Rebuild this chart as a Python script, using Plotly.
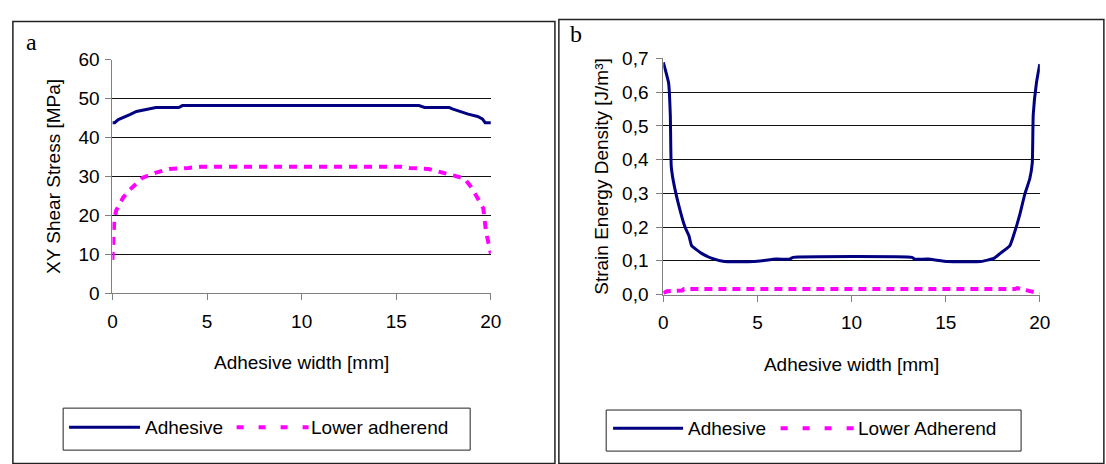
import plotly.graph_objects as go

W, H = 1106, 464

# Panel a: XY shear stress [MPa]
a_adh_x = [0.0, 0.12, 0.31, 0.6, 0.92, 1.27, 1.79, 2.3, 3.5, 3.7, 8.0, 12.0, 16.2, 16.5, 17.8, 18.0, 18.3, 18.8, 19.3, 19.55, 19.7, 20.0]
a_adh_y = [43.8, 43.8, 44.6, 45.3, 45.9, 46.7, 47.3, 47.7, 47.7, 48.2, 48.2, 48.2, 48.2, 47.7, 47.7, 47.3, 46.8, 46.0, 45.4, 44.8, 43.8, 43.8]

a_low_x = [0.0, 0.05, 0.1, 0.2, 0.57, 0.92, 1.27, 1.6, 2.3, 3.0, 4.0, 4.7, 10.0, 15.3, 15.7, 16.7, 17.2, 17.9, 18.6, 19.0, 19.3, 19.6, 19.75, 19.93, 20.0]
a_low_y = [8.6, 15.0, 19.0, 21.3, 24.6, 26.6, 28.3, 29.7, 31.0, 31.9, 32.2, 32.5, 32.5, 32.5, 32.2, 31.9, 31.3, 30.3, 29.5, 27.0, 24.3, 21.8, 15.6, 11.5, 10.2]

# Panel b: strain energy density [J/m3]
b_adh_x = [0.0, 0.28, 0.37, 0.42, 0.54, 0.8, 1.15, 1.36, 1.5, 2.03, 2.55, 3.25, 4.8, 6.0, 6.7, 6.9, 13.2, 13.35, 14.06, 15.1, 16.86, 17.55, 17.9, 18.4, 18.6, 18.95, 19.2, 19.47, 19.6, 19.65, 19.82, 20.0]
b_adh_y = [0.688, 0.627, 0.533, 0.38, 0.334, 0.269, 0.2, 0.174, 0.145, 0.122, 0.108, 0.098, 0.098, 0.105, 0.105, 0.11, 0.11, 0.105, 0.105, 0.098, 0.098, 0.107, 0.122, 0.144, 0.174, 0.24, 0.297, 0.344, 0.39, 0.533, 0.627, 0.683]

b_low_x = [0.0, 0.2, 1.0, 1.1, 10.0, 18.7, 18.8, 19.0, 20.0]
b_low_y = [0.004, 0.01, 0.012, 0.016, 0.016, 0.016, 0.019, 0.016, 0.003]

x_ticks = [0, 5, 10, 15, 20]
a_y_ticks = [0, 10, 20, 30, 40, 50, 60]
b_y_ticks = [0.0, 0.1, 0.2, 0.3, 0.4, 0.5, 0.6, 0.7]

NAVY = "#000080"
PINK = "#FF00FF"
FONT = "Liberation Sans, Arial, sans-serif"
SERIF = "Liberation Serif, Times New Roman, serif"
FS = 19

fig = go.Figure()
fig.add_trace(go.Scatter(x=a_adh_x, y=a_adh_y, mode="lines", line=dict(color=NAVY, width=3),
                         xaxis="x", yaxis="y", showlegend=False))
fig.add_trace(go.Scatter(x=a_low_x, y=a_low_y, mode="lines", line=dict(color=PINK, width=4, dash="8px,7px"),
                         xaxis="x", yaxis="y", showlegend=False))
fig.add_trace(go.Scatter(x=b_adh_x, y=b_adh_y, mode="lines", line=dict(color=NAVY, width=3, shape="spline", smoothing=0.4),
                         xaxis="x2", yaxis="y2", showlegend=False))
fig.add_trace(go.Scatter(x=b_low_x, y=b_low_y, mode="lines", line=dict(color=PINK, width=4, dash="8px,6px"),
                         xaxis="x2", yaxis="y2", showlegend=False, cliponaxis=False))

def px(x):
    return x / W

def py(y):
    return 1 - y / H

axis_common = dict(showline=True, linecolor="#808080", linewidth=1, ticks="outside", ticklen=6,
                   tickcolor="#808080", tickfont=dict(family=FONT, size=FS, color="black"),
                   zeroline=False)
title_font = dict(family=FONT, size=FS, color="black")

fig.update_layout(
    width=W, height=H, margin=dict(l=0, r=0, t=0, b=0),
    paper_bgcolor="white", plot_bgcolor="white", separators=",.",
    xaxis=dict(domain=[px(109), px(493)], range=[0, 20], tickvals=x_ticks, showgrid=False,
               anchor="y", ticklabelstandoff=5,
               title=dict(text="Adhesive width [mm]", font=title_font, standoff=24),
               **axis_common),
    yaxis=dict(domain=[py(296.7), py(52)], range=[0, 60], tickvals=a_y_ticks, showgrid=True,
               gridcolor="#111111", gridwidth=1, anchor="x", ticklabelstandoff=2,
               title=dict(text="XY Shear Stress [MPa]", font=title_font, standoff=12),
               **axis_common),
    xaxis2=dict(domain=[px(668), px(1050)], range=[0, 20], tickvals=x_ticks, showgrid=False,
                anchor="y2", ticklabelstandoff=5,
                title=dict(text="Adhesive width [mm]", font=title_font, standoff=25),
                **axis_common),
    yaxis2=dict(domain=[py(298), py(50.7)], range=[0, 0.7], tickvals=b_y_ticks, tickformat=".1f", showgrid=True,
                gridcolor="#111111", gridwidth=1, anchor="x2", ticklabelstandoff=4,
                title=dict(text="Strain Energy Density [J/m³]", font=title_font, standoff=8),
                **axis_common),
)

shapes = []
anns = []
# outer panel frames
shapes.append(dict(type="rect", xref="paper", yref="paper", x0=px(8), x1=px(558), y0=py(475), y1=py(12),
                   line=dict(color="#222222", width=1.5), fillcolor="rgba(0,0,0,0)", layer="below"))
shapes.append(dict(type="rect", xref="paper", yref="paper", x0=px(562), x1=px(1115), y0=py(475), y1=py(10),
                   line=dict(color="#222222", width=1.5), fillcolor="white", layer="below"))

def legend(x0, x1, y0, y1, sx0, sx1, dx0, dx1, ly, t1x, t2x, t2):
    shapes.append(dict(type="rect", xref="paper", yref="paper", x0=px(x0), x1=px(x1), y0=py(y1), y1=py(y0),
                       line=dict(color="#222222", width=1), fillcolor="white"))
    shapes.append(dict(type="line", xref="paper", yref="paper", x0=px(sx0), x1=px(sx1), y0=py(ly), y1=py(ly),
                       line=dict(color=NAVY, width=3)))
    shapes.append(dict(type="line", xref="paper", yref="paper", x0=px(dx0), x1=px(dx1), y0=py(ly), y1=py(ly),
                       line=dict(color=PINK, width=4, dash="7px,15px")))
    anns.append(dict(xref="paper", yref="paper", x=px(t1x), y=py(ly), text="Adhesive", showarrow=False,
                     xanchor="left", yanchor="middle", font=dict(family=FONT, size=FS, color="black")))
    anns.append(dict(xref="paper", yref="paper", x=px(t2x), y=py(ly), text=t2, showarrow=False,
                     xanchor="left", yanchor="middle", font=dict(family=FONT, size=FS, color="black")))

legend(59, 472, 417, 461, 65, 137, 235, 308, 437, 140, 308, "Lower adherend")
legend(610, 1031, 419, 462, 617, 688, 787, 862, 438, 691, 863, "Lower Adherend")

anns.append(dict(xref="paper", yref="paper", x=px(19), y=py(34), text="a", showarrow=False,
                 xanchor="left", yanchor="middle", font=dict(family=SERIF, size=24, color="black")))
anns.append(dict(xref="paper", yref="paper", x=px(571), y=py(25), text="b", showarrow=False,
                 xanchor="left", yanchor="middle", font=dict(family=SERIF, size=24, color="black")))

fig.update_layout(shapes=shapes, annotations=anns)
# remove the default 8px page margin so the figure sits at the window's top-left corner
fig.write_html("out.html", config={"displayModeBar": False},
               post_script="document.body.style.margin='0';document.body.style.overflow='hidden';")
